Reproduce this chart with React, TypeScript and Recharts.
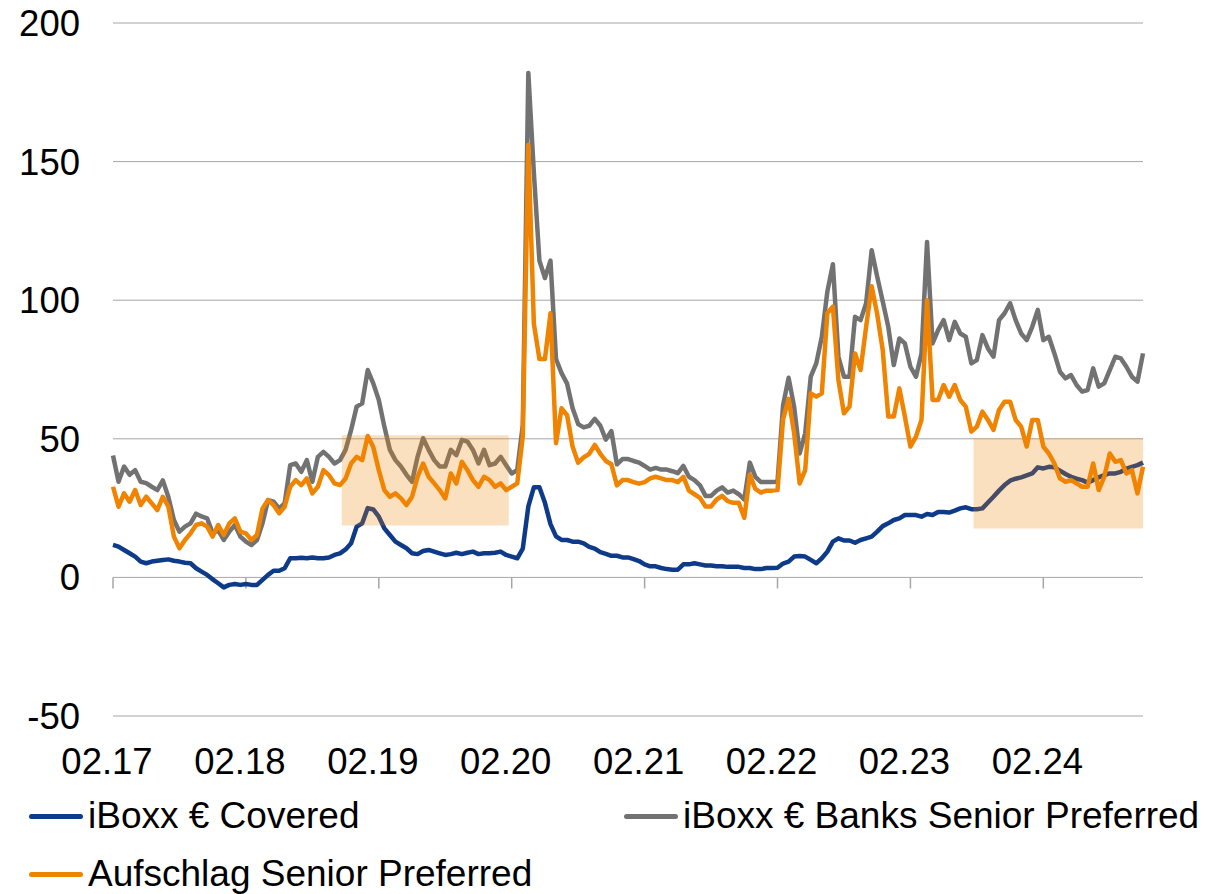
import { LineChart, Line, XAxis, YAxis, CartesianGrid, ReferenceArea, ReferenceLine, Legend } from "recharts";

// half-month steps starting at 02.17
const COVERED = [
  11.7, 11.1, 9.9, 8.7, 7.5, 5.7, 5.1, 5.7, 6.0, 6.3,
  6.5, 6.0, 5.7, 5.3, 5.1, 3.3, 2.1, 0.9, -0.7, -2.1,
  -3.6, -2.7, -2.4, -2.7, -2.4, -2.7, -2.7, -0.9, 0.9, 2.4,
  2.4, 3.3, 6.9, 6.9, 7.1, 6.9, 7.2, 6.9, 6.9, 7.2,
  8.1, 8.7, 10.1, 12.3, 18.3, 19.5, 25, 24.5, 21.9, 17.7,
  15.3, 12.9, 11.7, 10.5, 8.7, 8.4, 9.5, 9.9, 9.3, 8.7,
  8.1, 8.4, 8.9, 8.4, 8.9, 9.3, 8.4, 8.7, 8.7, 8.9,
  9.3, 8.1, 7.5, 6.9, 10.4, 25.6, 32.5, 32.5, 26.9, 19.2,
  14.8, 13.5, 13.5, 12.9, 12.9, 12.3, 11, 10.4, 9.1, 8.5,
  7.8, 7.8, 7.2, 7.2, 6.6, 5.9, 4.7, 4, 4, 3.4,
  3, 2.8, 2.8, 4.7, 4.7, 5.1, 4.7, 4.3, 4.3, 4,
  4, 3.8, 3.8, 3.8, 3.4, 3.4, 3, 3, 3.4, 3.4,
  3.5, 5, 5.7, 7.5, 7.7, 7.5, 6.3, 5.1, 6.9, 9.3,
  12.9, 14.1, 13.3, 13.3, 12.5, 13.5, 14.1, 14.7, 16.5, 18.5,
  19.5, 20.7, 21.3, 22.5, 22.5, 22.5, 21.9, 22.9, 22.5, 23.6,
  23.6, 23.4, 24.1, 24.9, 25.3, 24.6, 24.6, 24.9, 27, 29.1,
  31.3, 33.3, 34.9, 35.6, 36.1, 36.8, 37.5, 39.7, 39.3, 39.9,
  39.7, 38.5, 37.3, 36.3, 35.6, 35.1, 34.2, 35.1, 36.1, 36.9,
  37.5, 37.5, 38.1, 39.2, 39.9, 40.5, 41.4,
];

const BANKS_SP = [
  44, 34.5, 40, 37, 38.7, 34.5, 34, 32.7, 31.5, 35,
  29, 20.7, 16.5, 18.3, 19.5, 23, 22, 21.3, 15.9, 17,
  13.5, 16.5, 18.9, 14.7, 12.9, 11.7, 13.5, 19.5, 27.9, 27.3,
  24.9, 26.7, 40.5, 41.1, 38.1, 42.3, 34.5, 43.5, 45.3, 43.5,
  41.1, 42.3, 46, 53.2, 61.6, 62.8, 74.8, 70, 64, 54.4,
  46, 42.3, 40, 37, 34.5, 43.5, 50.2, 46, 42.3, 40,
  40, 46, 44.1, 49.6, 49, 46, 41.1, 46, 40.5, 41.1,
  43.5, 40.5, 37.5, 38.7, 55, 182, 146, 114.3, 108, 114.3,
  78.8, 73.7, 69.9, 61, 55.3, 54.1, 54.7, 57.2, 54.7, 49.7,
  52.8, 40.8, 42.7, 42.7, 42, 41.4, 40.2, 38.9, 39.5, 38.9,
  38.9, 38.3, 37.6, 40.2, 36.3, 35.1, 33.2, 29.4, 29.4, 31.3,
  32.5, 30.6, 31.3, 30, 28.1, 41.4, 36.3, 34.4, 34.4, 34.4,
  34.5, 62, 72, 61.6, 44.7, 52, 72.4, 77.2, 86.8, 103.1,
  113, 79.6, 72.4, 72.4, 94, 92.8, 98.9, 118, 108.5, 99.5,
  90.4, 76.6, 86.2, 84.4, 76, 72.4, 80.8, 121, 84.4, 89.2,
  92.8, 85.6, 92.2, 88, 86.8, 77.2, 78.4, 87.4, 82.6, 79.6,
  92.8, 95.3, 98.9, 92.8, 88, 85.6, 90.4, 96.5, 85.6, 86.8,
  80.8, 74.2, 71.8, 73, 69.4, 67, 67.6, 75.4, 68.8, 70,
  74.8, 79.6, 79, 76, 72.4, 70.6, 80.8,
];

const SPREAD_SP = [
  32.7, 25.5, 30.3, 27.3, 31.5, 26.1, 29.1, 26.7, 24.3, 29.1,
  25.5, 14.7, 10.5, 13.5, 15.9, 18.9, 19.5, 18.3, 14.7, 18.9,
  15.3, 19.5, 21.3, 16.5, 15.9, 13.5, 15.3, 24.9, 27.9, 26.1,
  23.1, 25.5, 32.7, 35.1, 33.3, 35.7, 30.3, 32.7, 38.7, 36.9,
  33.9, 33.3, 35.7, 41.1, 43.5, 42.3, 51, 47, 38.7, 31.5,
  29.1, 30.3, 28.5, 26.1, 29.1, 36.3, 41.1, 36.3, 33.9, 31.5,
  28.5, 37.5, 33.9, 41.7, 38.7, 35.1, 32.7, 36.3, 35.1, 32.7,
  33.9, 31.5, 32.7, 33.9, 50.9, 156, 91.5, 78.8, 78.8, 95.3,
  48.4, 61, 58.5, 47.1, 41.4, 43.3, 44.6, 47.8, 44.6, 42,
  40.8, 33.2, 35.1, 35.1, 34.4, 33.8, 34.4, 35.7, 36.3, 35.7,
  35.1, 35.1, 34.4, 36.3, 31.3, 30, 28.7, 25.6, 25.6, 28.1,
  29.4, 27.5, 26.9, 26.9, 21.5, 37, 31.9, 30.6, 31.3, 31.3,
  31.5, 57, 64.4, 52, 33.9, 38.7, 66.4, 65.2, 66.4, 95.3,
  97.7, 71.2, 59.2, 61.6, 80.8, 74.8, 90.4, 105, 95, 82,
  58, 58, 68.2, 58, 47.2, 50.8, 56.8, 100, 64, 64,
  69.4, 65.2, 69.4, 64, 61.6, 52.6, 54.4, 59.8, 56.8, 53.2,
  60.4, 63.4, 63.4, 56.8, 54.4, 47.2, 56.8, 56.8, 47.2, 44.7,
  41.1, 35.7, 34.5, 35.1, 33.9, 32.7, 32.7, 41.1, 31.5, 36.3,
  44.7, 41.7, 42.3, 37.5, 38.7, 30.3, 39.9,
];

const YEAR_TICKS = [0, 12, 24, 36, 48, 60, 72, 84];
const YEAR_LABELS = ["02.17", "02.18", "02.19", "02.20", "02.21", "02.22", "02.23", "02.24"];
const Y_TICKS = [-50, 0, 50, 100, 150, 200];

const SERIES = [
  { key: "covered", name: "iBoxx € Covered", color: "#0E3A8A" },
  { key: "banks", name: "iBoxx € Banks Senior Preferred", color: "#727272" },
  { key: "spread", name: "Aufschlag Senior Preferred", color: "#F08300" },
];

const data = COVERED.map((v, i) => ({
  t: i / 2,
  covered: v,
  banks: BANKS_SP[i],
  spread: SPREAD_SP[i],
}));

const GRID = "#a6a6a6";
const FONT = "'Liberation Sans', Arial, sans-serif";
const LINE_W = 4.5;

const LegendItem = ({ name, color, left, top }: { name: string; color: string; left: number; top: number }) => (
  <div style={{ position: "absolute", left, top, display: "flex", alignItems: "center", height: 44, whiteSpace: "nowrap" }}>
    <div style={{ width: 54, height: 5, borderRadius: 3, background: color, marginRight: 5 }} />
    <span style={{ fontSize: 37, color: "#000", lineHeight: "44px" }}>{name}</span>
  </div>
);

const renderLegend = () => (
  <div style={{ position: "relative", width: 1206, height: 110, fontFamily: FONT }}>
    <LegendItem name={SERIES[0].name} color={SERIES[0].color} left={29} top={4} />
    <LegendItem name={SERIES[1].name} color={SERIES[1].color} left={624} top={4} />
    <LegendItem name={SERIES[2].name} color={SERIES[2].color} left={29} top={62} />
  </div>
);

const App = () => {
  return (
    <div style={{ position: "absolute", left: 0, top: 0, width: 1206, height: 894, background: "#fff", fontFamily: FONT }}>
      <LineChart width={1206} height={894} data={data} margin={{ top: 23, right: 63, left: 0, bottom: 118 }}>
        <CartesianGrid vertical={false} stroke={GRID} strokeWidth={1} />
        <XAxis
          dataKey="t"
          type="number"
          domain={[0, 93]}
          ticks={YEAR_TICKS}
          tickFormatter={(v: number) => YEAR_LABELS[YEAR_TICKS.indexOf(v)] ?? ""}
          axisLine={false}
          tickLine={false}
          tickSize={0}
          tickMargin={32}
          height={60}
          tick={{ fontSize: 36.5, fill: "#000", dx: -6 }}
          interval={0}
        />
        <YAxis
          domain={[-50, 200]}
          ticks={Y_TICKS}
          axisLine={false}
          tickLine={false}
          tickSize={0}
          tickMargin={33}
          width={113}
          tick={{ fontSize: 36.5, fill: "#000" }}
          interval={0}
        />
        {YEAR_TICKS.map((t) => (
          <ReferenceLine
            key={t}
            segment={[{ x: t, y: 0 }, { x: t, y: -4 }]}
            stroke={GRID}
            strokeWidth={1.5}
          />
        ))}
        <Line
          type="linear"
          dataKey="covered"
          name={SERIES[0].name}
          stroke={SERIES[0].color}
          strokeWidth={LINE_W}
          dot={false}
          isAnimationActive={false}
          strokeLinejoin="round"
        />
        <Line
          type="linear"
          dataKey="banks"
          name={SERIES[1].name}
          stroke={SERIES[1].color}
          strokeWidth={LINE_W}
          dot={false}
          isAnimationActive={false}
          strokeLinejoin="round"
        />
        <ReferenceArea x1={20.66} x2={35.73} y1={18.7} y2={51.3} fill="#F08300" fillOpacity={0.25} stroke="none" zIndex={450} />
        <ReferenceArea x1={77.7} x2={93} y1={17.6} y2={50.2} fill="#F08300" fillOpacity={0.25} stroke="none" zIndex={450} />
        <Line
          type="linear"
          dataKey="spread"
          name={SERIES[2].name}
          stroke={SERIES[2].color}
          strokeWidth={LINE_W}
          dot={false}
          isAnimationActive={false}
          strokeLinejoin="round"
          zIndex={500}
        />
        <Legend
          layout="horizontal"
          verticalAlign="middle"
          align="center"
          wrapperStyle={{ top: 790, left: 0, width: 1206, height: 110 }}
          content={renderLegend}
        />
      </LineChart>
    </div>
  );
};

export default App;
